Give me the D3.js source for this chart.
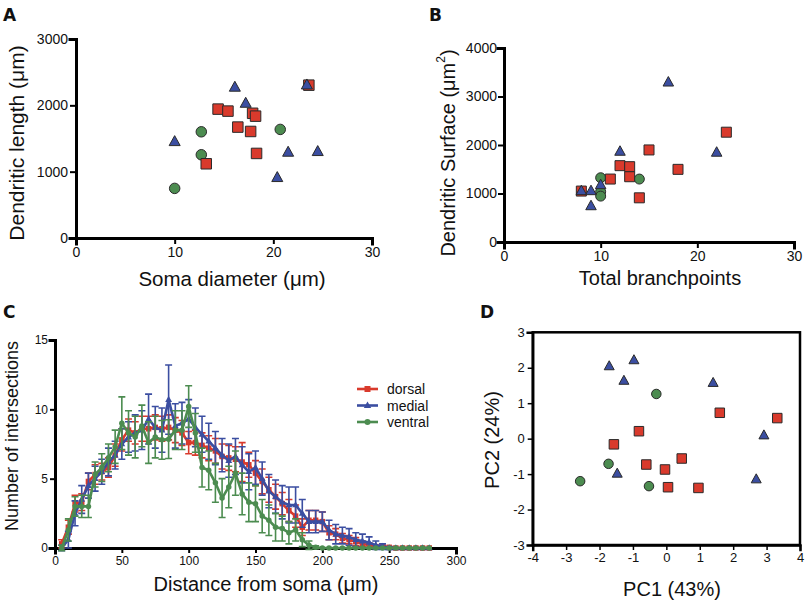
<!DOCTYPE html>
<html><head><meta charset="utf-8">
<script src="https://cdn.jsdelivr.net/npm/d3@7"></script>
<style>
body{margin:0;background:#fff;}
text{font-family:"Liberation Sans",Arial,Helvetica,sans-serif;fill:#111;}
</style>
</head><body>
<svg id="chart" width="805" height="602"></svg>
<script>
// ---------- DATA ----------
const groups = ["dorsal", "medial", "ventral"];
const colors = { dorsal: "#d93a2c", medial: "#3b4ea1", ventral: "#4c8c50" };

// Panel A: soma diameter (µm) vs dendritic length (µm)
const aDorsalX  = [14.4, 15.4, 17.9, 18.2, 16.4, 17.7, 18.3, 13.2, 23.6];
const aDorsalY  = [1943, 1913, 1880, 1837, 1672, 1606, 1275, 1119, 2304];
const aMedialX  = [10.0, 16.1, 17.2, 23.4, 21.5, 24.5, 20.4];
const aMedialY  = [1450, 2270, 2028, 2304, 1290, 1300, 908];
const aVentralX = [12.7, 12.7, 10.0, 20.7];
const aVentralY = [1601, 1255, 748, 1637];
const aXTicks = [0, 10, 20, 30];
const aYTicks = [0, 1000, 2000, 3000];

// Panel B: total branchpoints vs dendritic surface (µm²)
const bDorsalX  = [8, 11, 12, 13, 13, 15, 18, 23, 14];
const bDorsalY  = [1050, 1298, 1574, 1553, 1346, 1898, 1498, 2264, 911];
const bMedialX  = [17, 22, 12, 8, 9, 9, 10];
const bMedialY  = [3290, 1843, 1863, 1050, 1050, 740, 1174];
const bVentralX = [10, 10, 10, 14];
const bVentralY = [1325, 1035, 946, 1298];
const bXTicks = [0, 10, 20, 30];
const bYTicks = [0, 1000, 2000, 3000, 4000];

// Panel C: Sholl analysis, mean ± SEM
const cDistance = [5,10,15,20,25,30,35,40,45,50,55,60,65,70,75,80,85,90,95,100,
  105,110,115,120,125,130,135,140,145,150,155,160,165,170,175,180,185,190,195,200,
  205,210,215,220,225,230,235,240,245,250,255,260,265,270,275,280];
const cDorsalMean = [0.3,1.5,3.2,3.3,4.8,5.3,5.5,5.8,6.7,7.8,8.5,8.3,8.6,8.6,8.7,8.6,8.7,8.5,8.3,7.6,
  7.6,7.4,7.2,7.0,6.6,6.5,6.4,6.2,6.0,5.4,4.8,4.2,3.7,3.2,2.7,2.3,1.5,2.0,2.0,1.9,
  1.1,1.0,0.7,0.6,0.45,0.3,0.2,0.1,0.1,0.05,0,0,0,0,0,0];
const cDorsalSem = [0.3,0.5,0.6,0.6,0.6,0.7,0.6,0.7,0.8,0.8,0.8,0.8,0.9,0.9,0.9,0.9,0.9,0.9,0.9,0.8,
  0.9,0.9,0.9,0.9,0.9,0.9,0.9,1.4,0.9,0.9,0.9,0.9,0.9,0.8,0.8,0.8,0.6,0.7,0.7,0.7,
  0.5,0.4,0.35,0.3,0.3,0.2,0.15,0.1,0.1,0.05,0,0,0,0,0,0];
const cMedialMean = [0,0.6,2.5,3.5,4.5,5.0,5.5,6.2,6.7,7.5,8.0,8.3,8.5,9.3,8.7,8.5,10.7,8.8,9.0,9.3,
  8.7,8.2,7.7,7.2,6.7,6.3,6.6,6.0,5.5,5.8,5.0,4.1,3.7,3.3,3.1,3.1,2.5,1.9,1.9,1.9,
  1.3,1.0,0.9,0.8,0.6,0.5,0.4,0.2,0.1,0,0,0,0,0,0,0];
const cMedialSem = [0.2,0.6,0.9,1.0,0.9,0.9,0.9,1.0,1.0,1.1,1.1,1.3,1.4,1.8,1.5,1.6,2.5,1.6,1.5,1.4,
  1.4,1.3,1.3,1.2,1.2,1.2,1.3,1.3,1.3,1.2,1.2,1.2,1.2,1.2,1.3,1.3,1.0,0.8,0.8,0.7,
  0.7,0.7,0.6,0.6,0.5,0.5,0.4,0.3,0.2,0.1,0,0,0,0,0,0];
const cVentralMean = [0,1.3,3.0,3.0,3.0,5.3,5.8,6.5,7.3,9.0,8.3,8.0,8.8,7.6,8.0,7.8,7.85,8.5,8.5,10.2,
  8.3,5.8,5.6,4.7,3.6,4.4,5.4,3.9,3.3,3.2,2.3,2.0,1.5,1.4,1.1,1.3,0.6,0.2,0.05,0,
  0,0,0,0,0,0,0,0,0,0,0,0,0,0,0,0];
const cVentralSem = [0.2,0.8,0.7,0.8,0.8,0.9,1.0,1.0,1.2,1.9,1.6,1.5,1.5,1.5,1.5,1.4,1.4,1.4,1.4,1.5,
  1.4,1.4,1.4,1.4,1.4,1.5,1.6,1.5,1.4,1.3,1.2,1.1,1.0,0.9,0.8,0.8,0.5,0.3,0.1,0,
  0,0,0,0,0,0,0,0,0,0,0,0,0,0,0,0];
const cXTicks = [0, 50, 100, 150, 200, 250, 300];
const cYTicks = [0, 5, 10, 15];

// Panel D: PCA
const dDorsalX  = [1.60, 3.32, -0.82, -1.57, -0.60, -0.04, 0.46, 0.05, 0.96];
const dDorsalY  = [0.73, 0.58, 0.21, -0.16, -0.73, -0.87, -0.56, -1.37, -1.39];
const dMedialX  = [-1.71, -0.97, -1.27, 1.40, 2.92, 2.69, -1.47];
const dMedialY  = [2.04, 2.21, 1.63, 1.57, 0.09, -1.15, -0.99];
const dVentralX = [-0.30, -1.73, -2.58, -0.52];
const dVentralY = [1.26, -0.71, -1.20, -1.34];
const dXTicks = [-4, -3, -2, -1, 0, 1, 2, 3, 4];
const dYTicks = [-3, -2, -1, 0, 1, 2, 3];

// ---------- HELPERS ----------
const FONT = "'Liberation Sans', Arial, Helvetica, sans-serif";
const svg = d3.select("#chart");
const zip = (xs, ys) => xs.map((x, i) => [x, ys[i]]);

function markerPath(group, s) {
  if (group === "dorsal") {
    const h = s / 2;
    return `M${-h},${-h}H${h}V${h}H${-h}Z`;
  }
  if (group === "medial") {
    const w = s * 1.05, hh = s * 0.95;
    return `M0,${-hh * 0.62}L${w / 2},${hh * 0.38}L${-w / 2},${hh * 0.38}Z`;
  }
  const r = s / 2;
  return `M${r},0A${r},${r} 0 1,1 ${-r},0A${r},${r} 0 1,1 ${r},0Z`;
}

function drawMarkers(g, pts, group, x, y, s, sw) {
  g.append("g").selectAll("path").data(pts).join("path")
    .attr("transform", d => `translate(${x(d[0])},${y(d[1])})`)
    .attr("d", markerPath(group, s))
    .attr("fill", colors[group])
    .attr("stroke", "#2a2a2a")
    .attr("stroke-width", sw);
}

function styleAxis(ax, fs, domW, tickW) {
  ax.attr("font-family", FONT);
  ax.selectAll("text").style("font-family", FONT).style("font-size", fs + "px").attr("fill", "#111");
  ax.select(".domain").attr("stroke", "#000").attr("stroke-width", domW).attr("stroke-linecap", "square");
  ax.selectAll(".tick line").attr("stroke", "#000").attr("stroke-width", tickW);
}

function panelLetter(t, x, y) {
  svg.append("text").attr("x", x).attr("y", y).text(t)
    .style("font-family", "'DejaVu Sans',Arial,sans-serif")
    .style("font-weight", "900").style("font-size", "17px").attr("fill", "#000");
}

function titleText(t, x, y, fs, rot) {
  const el = svg.append("text").attr("text-anchor", "middle")
    .attr("dominant-baseline", "central").style("font-family", FONT)
    .style("font-size", fs + "px").attr("fill", "#111");
  if (rot) el.attr("transform", `translate(${x},${y}) rotate(-90)`);
  else el.attr("x", x).attr("y", y);
  return el.text(t);
}

// ---------- PANEL A ----------
{
  const x = d3.scaleLinear().domain([0, 30]).range([76, 372]);
  const y = d3.scaleLinear().domain([0, 3000]).range([238, 39]);
  const g = svg.append("g");
  styleAxis(g.append("g").attr("transform", "translate(0,238)")
    .call(d3.axisBottom(x).tickValues(aXTicks).tickSizeOuter(0).tickSize(6).tickPadding(3)), 14, 3, 2);
  styleAxis(g.append("g").attr("transform", "translate(76,0)")
    .call(d3.axisLeft(y).tickValues(aYTicks).tickFormat(d3.format("d")).tickSizeOuter(0).tickSize(6).tickPadding(2)), 14, 3, 2);
  drawMarkers(g, zip(aVentralX, aVentralY), "ventral", x, y, 10.5, 1);
  drawMarkers(g, zip(aDorsalX, aDorsalY), "dorsal", x, y, 10.5, 1);
  drawMarkers(g, zip(aMedialX, aMedialY), "medial", x, y, 10.5, 1);
  titleText("Soma diameter (μm)", 232, 278, 20.5, false);
  titleText("Dendritic length (μm)", 16, 143, 21, true);
  panelLetter("A", 3, 21);
}

// ---------- PANEL B ----------
{
  const x = d3.scaleLinear().domain([0, 30]).range([504, 794]);
  const y = d3.scaleLinear().domain([0, 4000]).range([242, 48]);
  const g = svg.append("g");
  styleAxis(g.append("g").attr("transform", "translate(0,242)")
    .call(d3.axisBottom(x).tickValues(bXTicks).tickSizeOuter(0).tickSize(6).tickPadding(3)), 14, 3, 2);
  styleAxis(g.append("g").attr("transform", "translate(504,0)")
    .call(d3.axisLeft(y).tickValues(bYTicks).tickFormat(d3.format("d")).tickSizeOuter(0).tickSize(6).tickPadding(1)), 14, 3, 2);
  drawMarkers(g, zip(bVentralX, bVentralY), "ventral", x, y, 10, 1);
  drawMarkers(g, zip(bDorsalX, bDorsalY), "dorsal", x, y, 10, 1);
  drawMarkers(g, zip(bMedialX, bMedialY), "medial", x, y, 10, 1);
  titleText("Total branchpoints", 660, 278, 20, false);
  const t = titleText("", 448, 153, 20, true);
  t.append("tspan").text("Dendritic Surface (μm");
  t.append("tspan").text("2").attr("dy", "-7").style("font-size", "12px");
  t.append("tspan").text(")").attr("dy", "7");
  panelLetter("B", 429, 21);
}

// ---------- PANEL C ----------
{
  const x = d3.scaleLinear().domain([0, 300]).range([55, 456]);
  const y = d3.scaleLinear().domain([0, 15]).range([548, 340]);
  const g = svg.append("g");
  styleAxis(g.append("g").attr("transform", "translate(0,548)")
    .call(d3.axisBottom(x).tickValues(cXTicks).tickSizeOuter(0).tickSize(5).tickPadding(3)), 12, 3, 2);
  styleAxis(g.append("g").attr("transform", "translate(55,0)")
    .call(d3.axisLeft(y).tickValues(cYTicks).tickSizeOuter(0).tickSize(5).tickPadding(2)), 12, 3, 2);

  const series = [
    { group: "dorsal", mean: cDorsalMean, sem: cDorsalSem },
    { group: "medial", mean: cMedialMean, sem: cMedialSem },
    { group: "ventral", mean: cVentralMean, sem: cVentralSem }
  ];
  const line = d3.line().x(d => x(d[0])).y(d => y(d[1]));
  series.forEach(s => {
    const pts = cDistance.map((d, i) => [d, s.mean[i], s.sem[i]]);
    const c = colors[s.group];
    const gg = g.append("g");
    gg.selectAll("path.eb").data(pts.filter(p => p[2] > 0)).join("path")
      .attr("class", "eb")
      .attr("d", p => {
        const X = x(p[0]), y1 = y(p[1] - p[2]), y2 = y(p[1] + p[2]);
        return `M${X},${y1}V${y2}M${X - 3.5},${y2}H${X + 3.5}M${X - 3.5},${y1}H${X + 3.5}`;
      })
      .attr("stroke", c).attr("stroke-width", 1.6).attr("fill", "none");
    gg.append("path").datum(pts).attr("d", line)
      .attr("fill", "none").attr("stroke", c).attr("stroke-width", 2.6);
    gg.selectAll("path.m").data(pts).join("path").attr("class", "m")
      .attr("transform", p => `translate(${x(p[0])},${y(p[1])})`)
      .attr("d", markerPath(s.group, s.group === "medial" ? 6.5 : 5.5))
      .attr("fill", c);
  });

  // legend
  const lg = g.append("g");
  groups.forEach((grp, i) => {
    const yy = 389 + i * 16.5;
    lg.append("line").attr("x1", 357).attr("x2", 378).attr("y1", yy).attr("y2", yy)
      .attr("stroke", colors[grp]).attr("stroke-width", 2.6);
    lg.append("path").attr("transform", `translate(367.5,${yy})`)
      .attr("d", markerPath(grp, grp === "medial" ? 7 : 6)).attr("fill", colors[grp]);
    lg.append("text").attr("x", 387).attr("y", yy).attr("dominant-baseline", "central")
      .style("font-family", FONT).style("font-size", "14px").text(grp);
  });

  titleText("Distance from soma (μm)", 266, 584, 20, false);
  titleText("Number of intersections", 12, 436, 18, true);
  panelLetter("C", 3, 318);
}

// ---------- PANEL D ----------
{
  const x = d3.scaleLinear().domain([-4, 4]).range([532.7, 800]);
  const y = d3.scaleLinear().domain([-3, 3]).range([545, 332.3]);
  const g = svg.append("g");
  styleAxis(g.append("g").attr("transform", "translate(0,545)")
    .call(d3.axisBottom(x).tickValues(dXTicks).tickFormat(d3.format("d")).tickSizeOuter(0).tickSize(5).tickPadding(3)), 13, 2.5, 1.5);
  styleAxis(g.append("g").attr("transform", "translate(532.7,0)")
    .call(d3.axisLeft(y).tickValues(dYTicks).tickFormat(d3.format("d")).tickSizeOuter(0).tickSize(5).tickPadding(3)), 13, 2.5, 1.5);
  g.selectAll(".tick text").text(function() { return this.textContent.replace("−", "-"); });
  g.append("rect").attr("x", x(-4)).attr("y", y(3))
    .attr("width", x(4) - x(-4)).attr("height", y(-3) - y(3))
    .attr("fill", "none").attr("stroke", "#000").attr("stroke-width", 2.5);
  drawMarkers(g, zip(dVentralX, dVentralY), "ventral", x, y, 9.5, 1);
  drawMarkers(g, zip(dDorsalX, dDorsalY), "dorsal", x, y, 9.5, 1);
  drawMarkers(g, zip(dMedialX, dMedialY), "medial", x, y, 9.5, 1);
  titleText("PC1 (43%)", 672, 589, 20, false);
  titleText("PC2 (24%)", 492, 440, 20, true);
  panelLetter("D", 480, 318);
}
</script>
</body></html>
